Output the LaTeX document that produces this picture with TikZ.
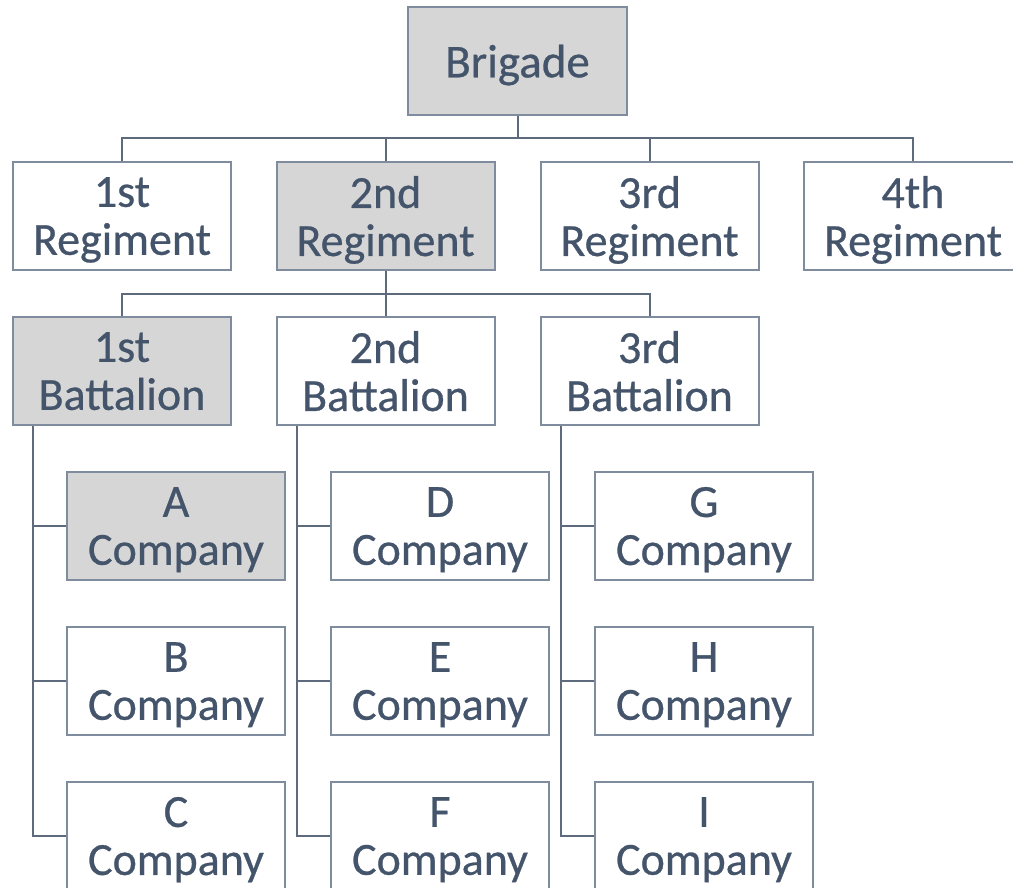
\documentclass[tikz,border=0pt]{standalone}
\usepackage{fontspec}
\setmainfont[FakeBold=0.6]{Carlito}
\definecolor{txt}{HTML}{44546A}
\definecolor{edgec}{HTML}{7F8C9D}
\definecolor{linec}{HTML}{5D6B7C}
\definecolor{shade}{HTML}{D6D6D6}
\tikzset{
  unit/.style={draw=edgec, line width=2pt, fill=white, text=txt,
    minimum width=218pt, minimum height=108pt, inner sep=0pt,
    text depth=0pt, align=center, font=\fontsize{46}{48}\selectfont},
  hl/.style={unit, fill=shade},
  link/.style={draw=linec, line width=2pt}
}
\begin{document}
\begin{tikzpicture}[x=1pt,y=-1pt]
\useasboundingbox (0,0) rectangle (1013,888);
\clip (0,0) rectangle (1013,888);

% headquarters
\node[hl, minimum width=219pt, font=\fontsize{47}{48}\selectfont] (brig) at (517.5,61) {Brigade};

% regiments
\node[unit] (r1) at (122,216)   {1st\\Regiment};
\node[hl]   (r2) at (385.5,216) {2nd\\Regiment};
\node[unit] (r3) at (649.5,216) {3rd\\Regiment};
\node[unit] (r4) at (913,216)   {4th\\Regiment};

% battalions of the 2nd Regiment
\node[hl]   (b1) at (122,371)   {1st\\Battalion};
\node[unit] (b2) at (385.5,371) {2nd\\Battalion};
\node[unit] (b3) at (649.5,371) {3rd\\Battalion};

% companies
\node[hl]   (ca) at (176,526) {A\\Company};
\node[unit] (cb) at (176,681) {B\\Company};
\node[unit] (cc) at (176,836) {C\\Company};
\node[unit] (cd) at (440,526) {D\\Company};
\node[unit] (ce) at (440,681) {E\\Company};
\node[unit] (cf) at (440,836) {F\\Company};
\node[unit] (cg) at (704,526) {G\\Company};
\node[unit] (ch) at (704,681) {H\\Company};
\node[unit] (ci) at (704,836) {I\\Company};

% brigade to regiments
\coordinate (j1) at ([yshift=-22pt]brig.south);
\draw[link] (brig.south) -- (j1);
\foreach \r in {r1,r2,r3,r4} \draw[link] (j1) -| (\r.north);

% regiment to battalions
\coordinate (j2) at ([yshift=-23pt]r2.south);
\draw[link] (r2.south) -- (j2);
\foreach \b in {b1,b2,b3} \draw[link] (j2) -| (\b.north);

% battalions to companies
\foreach \b/\x/\y/\z in {b1/ca/cb/cc, b2/cd/ce/cf, b3/cg/ch/ci}{
  \draw[link] ([xshift=21pt]\b.south west) |- (\z.west);
  \draw[link] ([xshift=21pt]\b.south west |- \x.west) -- (\x.west);
  \draw[link] ([xshift=21pt]\b.south west |- \y.west) -- (\y.west);
}
\end{tikzpicture}
\end{document}
